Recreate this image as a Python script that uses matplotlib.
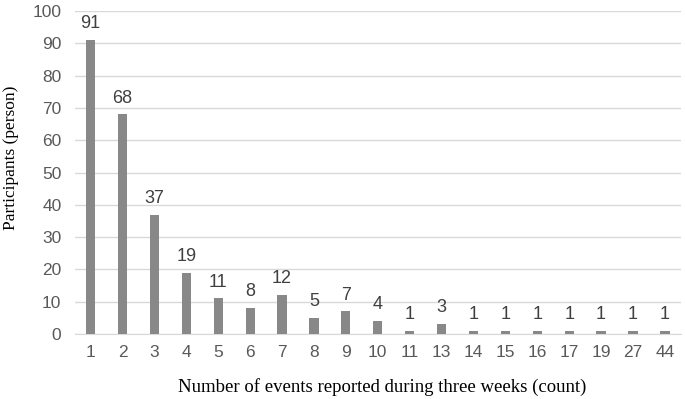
import matplotlib
matplotlib.use("Agg")
import matplotlib.pyplot as plt
import numpy as np

categories = ["1", "2", "3", "4", "5", "6", "7", "8", "9", "10", "11", "13", "14", "15", "16", "17", "19", "27", "44"]
participants = [91, 68, 37, 19, 11, 8, 12, 5, 7, 4, 1, 3, 1, 1, 1, 1, 1, 1, 1]

fig = plt.figure(figsize=(6.85, 3.99), dpi=100)
ax = fig.add_axes([0.109, 0.163, 0.885, 0.809])

x = np.arange(len(categories))
ax.bar(x, participants, width=0.29, color="#888888", zorder=3)
for xi, v in zip(x, participants):
    ax.annotate(str(v), (xi, v), xytext=(0, 8.5), textcoords="offset points",
                ha="center", va="baseline", fontsize=13,
                color="#404040", family="Liberation Sans")

ax.set_xlim(-0.5, len(categories) - 0.5)
ax.set_ylim(0, 100)
ax.set_yticks(np.arange(0, 101, 10))
ax.set_xticks(x)
ax.set_xticklabels(categories)
ax.grid(axis="y", color="#d9d9d9", linewidth=1, zorder=0)
for s in ["top", "right", "left"]:
    ax.spines[s].set_visible(False)
ax.spines["bottom"].set_color("#d9d9d9")
ax.tick_params(axis="x", length=0, labelsize=12.5, colors="#595959", pad=8)
ax.tick_params(axis="y", length=0, labelsize=12.5, colors="#595959", pad=9.5)
for lab in ax.get_xticklabels() + ax.get_yticklabels():
    lab.set_family("Liberation Sans")

fig.text(0.558, 0.0175, "Number of events reported during three weeks (count)",
         family="Liberation Serif", fontsize=13.5, color="#000000",
         ha="center", va="baseline")
fig.text(0.016, 0.605, "Participants (person)", family="Liberation Serif",
         fontsize=12.5, color="#000000", rotation=90, ha="center", va="center")

fig.savefig("out.png", dpi=100)
